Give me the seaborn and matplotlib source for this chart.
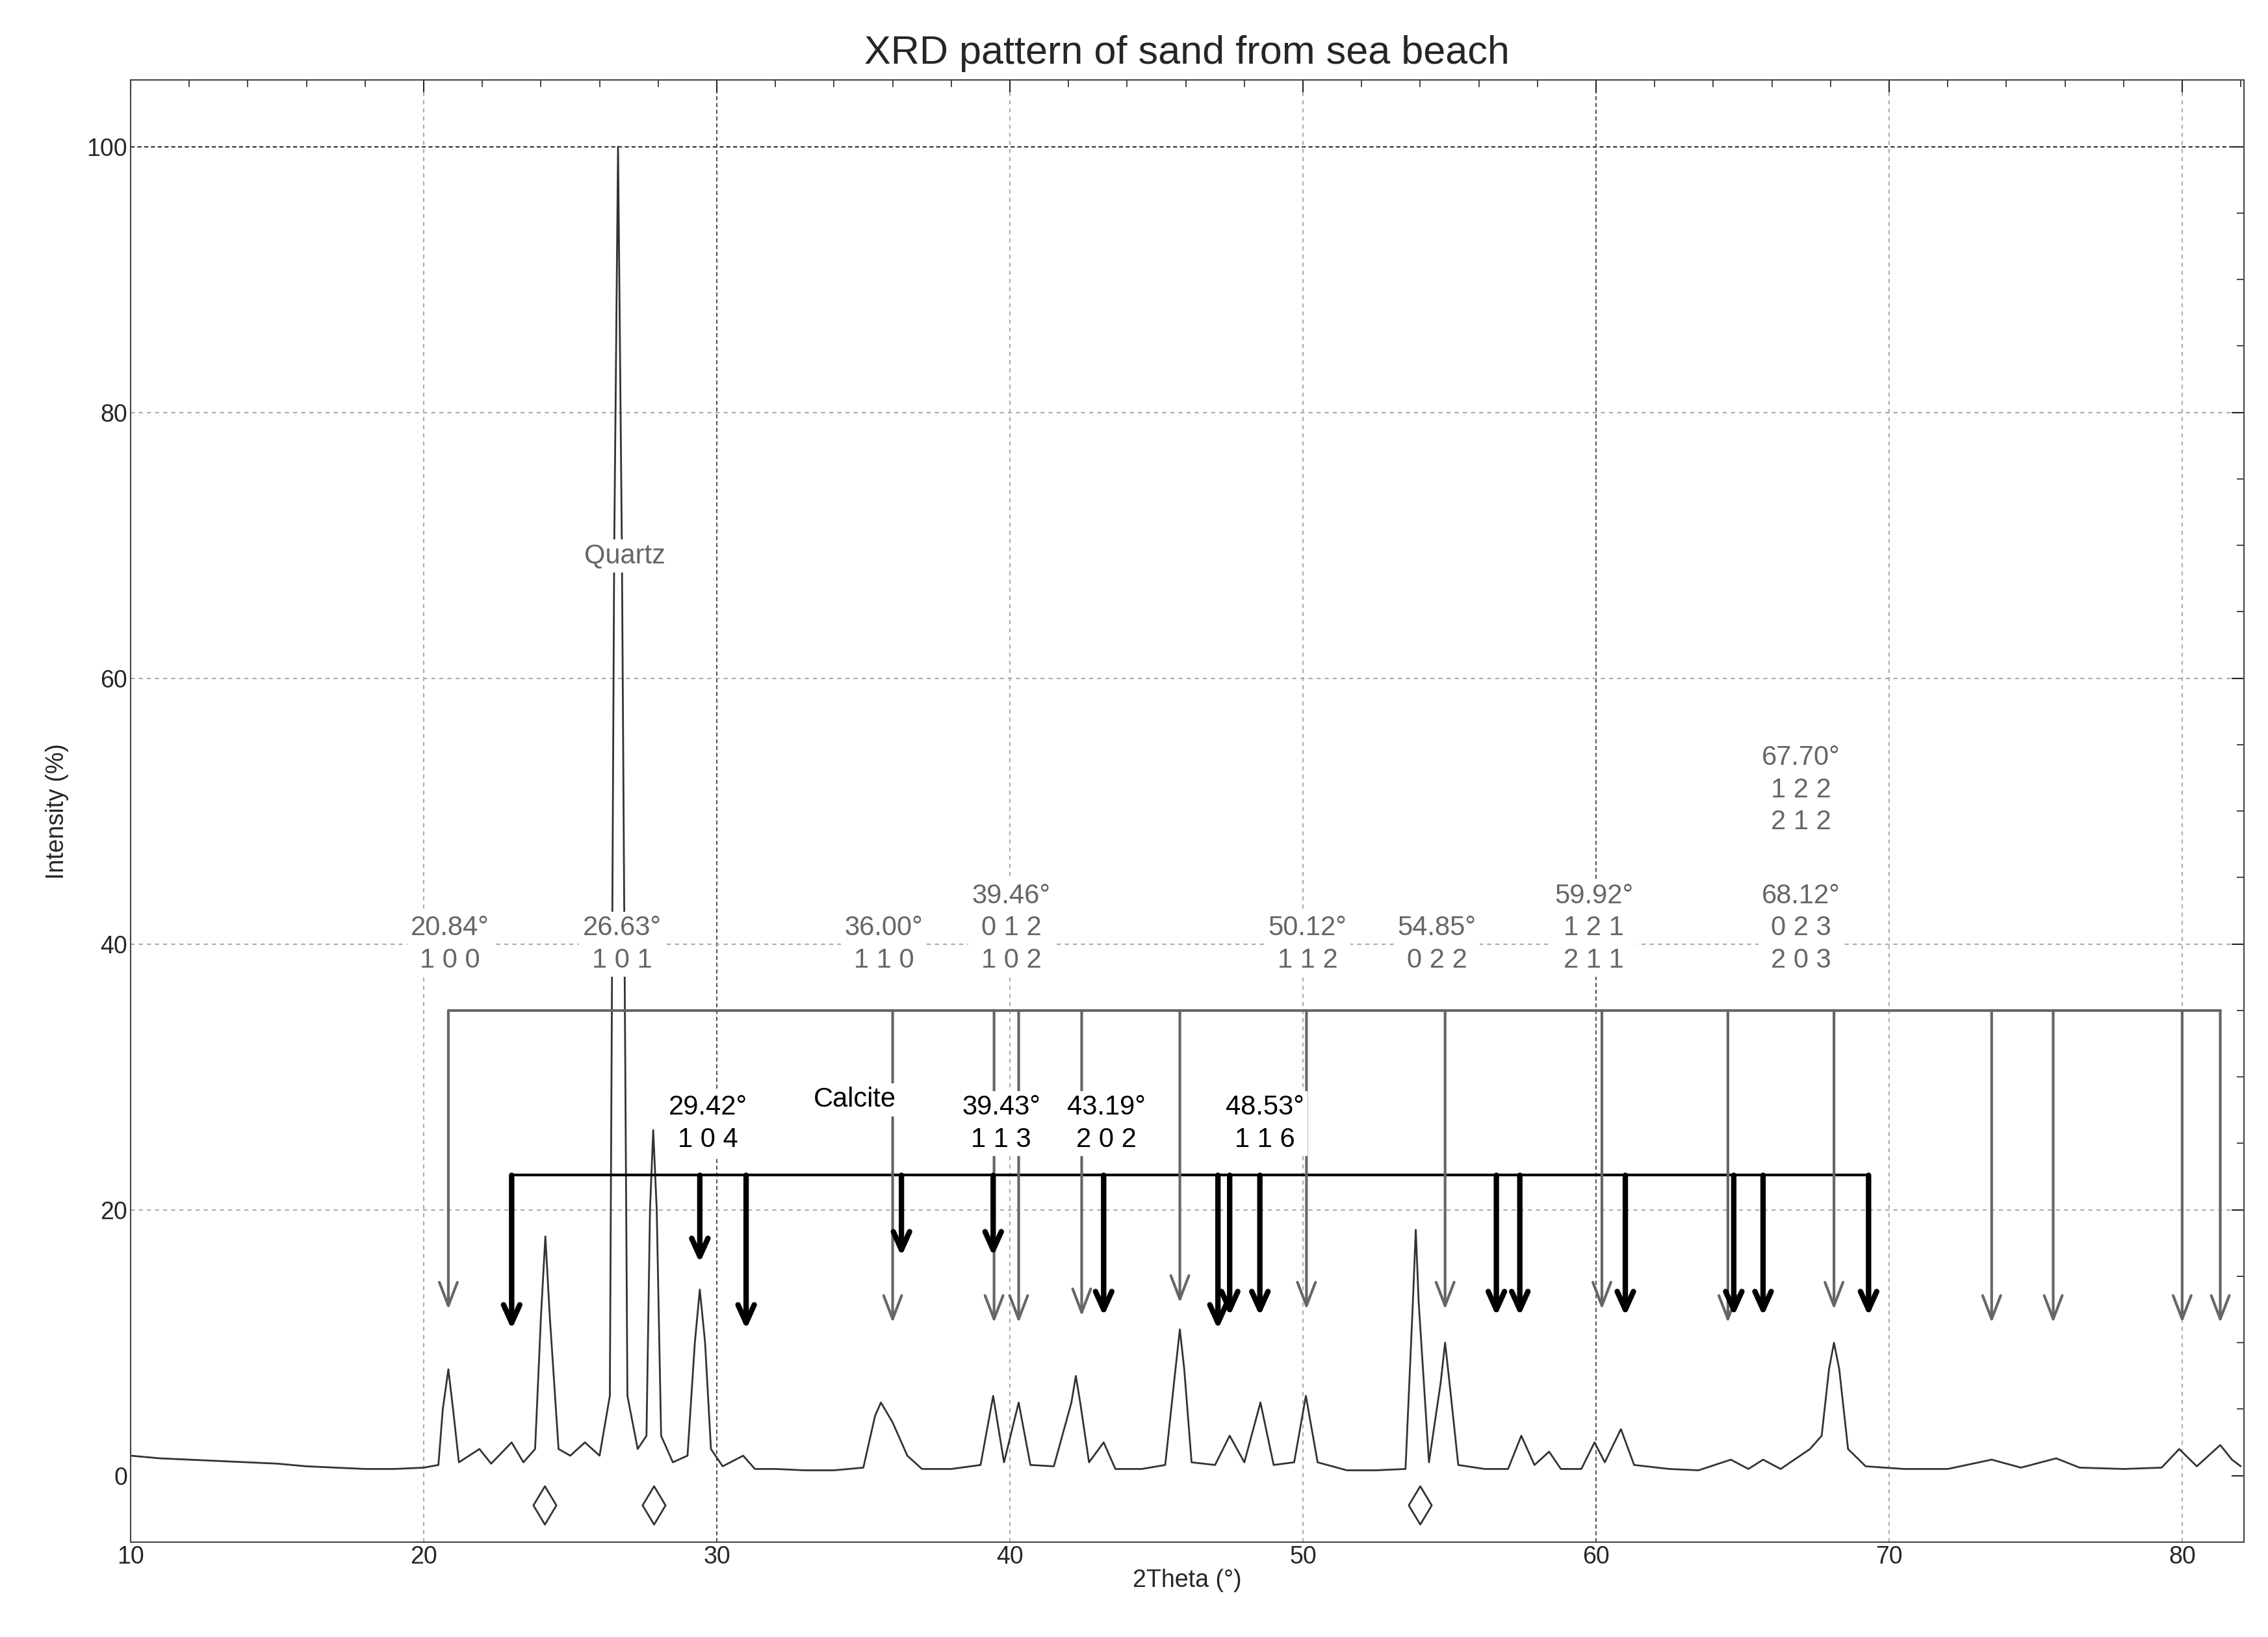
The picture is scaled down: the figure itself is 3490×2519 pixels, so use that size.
import matplotlib
matplotlib.use("Agg")
import matplotlib.pyplot as plt
import seaborn as sns
import pandas as pd
from matplotlib.ticker import MultipleLocator

sns.set_style("white")
plt.rcParams['font.family'] = ['Liberation Sans', 'DejaVu Sans']

two_theta = [10, 11, 12, 13, 14, 15, 16, 17, 18, 19, 20, 20.5, 20.65, 20.84, 21.0, 21.2, 21.9, 22.3, 23.0, 23.4, 23.8, 24.0, 24.15, 24.3, 24.6,
             25.0, 25.5, 26.0, 26.35, 26.5, 26.63, 26.76, 26.95, 27.3, 27.6, 27.72, 27.83, 27.95, 28.1, 28.5, 29.0, 29.25, 29.42, 29.6, 29.8, 30.2, 30.9, 31.3,
             32, 33, 34, 35.0, 35.4, 35.6, 36.0, 36.5, 37, 38, 39.0, 39.43, 39.8, 40.3, 40.7, 41.5, 42.1, 42.25, 42.4, 42.7, 43.2, 43.6,
             44.5, 45.3, 45.65, 45.8, 45.95, 46.2, 47.0, 47.5, 48.0, 48.55, 49.0, 49.7, 50.1, 50.5, 51.5, 52.5, 53.5, 53.75, 53.85, 53.95, 54.3,
             54.7, 54.85, 55.0, 55.3, 56.2, 57.0, 57.45, 57.9, 58.4, 58.8, 59.5, 59.95, 60.3, 60.85, 61.3, 62.5, 63.5, 64.6, 65.2,
             65.7, 66.3, 67.3, 67.7, 67.95, 68.12, 68.3, 68.6, 69.2, 70.5, 72, 73.5, 74.5, 75.7, 76.5, 78, 79.3, 79.9, 80.5, 81.3,
             81.7, 82]
intensity = [1.5, 1.3, 1.2, 1.1, 1.0, 0.9, 0.7, 0.6, 0.5, 0.5, 0.6, 0.8, 5.0, 8.0, 5.0, 1.0, 2.0, 0.9, 2.5, 1.0, 2.0, 12.0, 18.0, 12.0, 2.0,
             1.5, 2.5, 1.5, 6.0, 70.0, 100.0, 70.0, 6.0, 2.0, 3.0, 20.0, 26.0, 20.0, 3.0, 1.0, 1.5, 10.0, 14.0, 10.0, 2.0, 0.7, 1.5, 0.5,
             0.5, 0.4, 0.4, 0.6, 4.5, 5.5, 4.0, 1.5, 0.5, 0.5, 0.8, 6.0, 1.0, 5.5, 0.8, 0.7, 5.5, 7.5, 5.5, 1.0, 2.5, 0.5,
             0.5, 0.8, 8.0, 11.0, 8.0, 1.0, 0.8, 3.0, 1.0, 5.5, 0.8, 1.0, 6.0, 1.0, 0.4, 0.4, 0.5, 13.0, 18.5, 13.0, 1.0,
             7.0, 10.0, 7.0, 0.8, 0.5, 0.5, 3.0, 0.8, 1.8, 0.5, 0.5, 2.5, 1.0, 3.5, 0.8, 0.5, 0.4, 1.2, 0.5,
             1.2, 0.5, 2.0, 3.0, 8.0, 10.0, 8.0, 2.0, 0.7, 0.5, 0.5, 1.2, 0.6, 1.3, 0.6, 0.5, 0.6, 2.0, 0.7, 2.3,
             1.2, 0.7]

quartz_x = [20.84, 36.00, 39.46, 40.3, 42.45, 45.8, 50.12, 54.85, 60.2, 64.5, 68.12, 73.5, 75.6, 80.0, 81.3]
quartz_tip = [12.5, 11.5, 11.5, 11.5, 12, 13, 12.5, 12.5, 12.5, 11.5, 12.5, 11.5, 11.5, 11.5, 11.5]
calcite_x = [23.0, 29.42, 31.0, 36.3, 39.43, 43.2, 47.1, 47.5, 48.53, 56.6, 57.4, 61.0, 64.7, 65.7, 69.3]
calcite_tip = [11, 16, 11, 16.5, 16.5, 12, 11, 12, 12, 12, 12, 12, 12, 12, 12]

quartz_labels = [(20.9, "20.84°\n1 0 0"), (26.76, "26.63°\n1 0 1"), (35.7, "36.00°\n1 1 0"),
                 (40.05, "39.46°\n0 1 2\n1 0 2"), (50.16, "50.12°\n1 1 2"), (54.57, "54.85°\n0 2 2"),
                 (59.93, "59.92°\n1 2 1\n2 1 1"), (67.0, "68.12°\n0 2 3\n2 0 3"), (67.0, "67.70°\n1 2 2\n2 1 2")]
quartz_label_base = [37.8, 37.8, 37.8, 37.8, 37.8, 37.8, 37.8, 37.8, 48.2]
calcite_labels = [(29.7, "29.42°\n1 0 4"), (39.7, "39.43°\n1 1 3"), (43.3, "43.19°\n2 0 2"), (48.7, "48.53°\n1 1 6")]
diamond_x = [24.13, 27.85, 54.0]

GRAY = "#666666"
fig, ax = plt.subplots(figsize=(34.91, 25.19), dpi=100)
fig.subplots_adjust(left=0.0576, right=0.989, top=0.951, bottom=0.058)

df = pd.DataFrame({"x": two_theta, "y": intensity})
sns.lineplot(data=df, x="x", y="y", ax=ax, color="#333333", lw=2.0)

ax.set_xlim(10, 82.1)
ax.set_ylim(-5, 105)
ax.xaxis.set_major_locator(MultipleLocator(10))
ax.xaxis.set_minor_locator(MultipleLocator(2))
ax.yaxis.set_major_locator(MultipleLocator(20))
ax.yaxis.set_minor_locator(MultipleLocator(5))
ax.tick_params(which="both", direction="in", top=True, right=True, labelsize=27)
ax.tick_params(which="major", length=14, width=1.5)
ax.tick_params(which="minor", length=8, width=1.2)
for v in [20, 40, 50, 70, 80]:
    ax.axvline(v, color="#aaaaaa", ls=(0, (3, 3)), lw=1.5, zorder=0)
for v in [30, 60]:
    ax.axvline(v, color="#555555", ls=(0, (3, 2)), lw=1.5, zorder=0)
for v in [20, 40, 60, 80]:
    ax.axhline(v, color="#aaaaaa", ls=(0, (3, 3)), lw=1.5, zorder=0)
ax.axhline(100, color="#333333", ls=(0, (3, 2)), lw=1.5, zorder=0)
for s in ax.spines.values():
    s.set_color("#444444"); s.set_linewidth(1.5)

ax.set_xlabel("2Theta (°)", fontsize=27, labelpad=0)
ax.set_ylabel("Intensity (%)", fontsize=27, labelpad=20)
ax.set_title("XRD pattern of sand from sea beach", fontsize=44, pad=18)

ax.plot([quartz_x[0], quartz_x[-1]], [35, 35], color=GRAY, lw=3)
for x, t in zip(quartz_x, quartz_tip):
    ax.annotate("", xy=(x, t), xytext=(x, 35),
                arrowprops=dict(arrowstyle="->,head_length=2.6,head_width=1.0", color=GRAY, lw=3, shrinkA=0, shrinkB=0))
ax.plot([calcite_x[0], calcite_x[-1]], [22.6, 22.6], color="black", lw=3)
for x, t in zip(calcite_x, calcite_tip):
    ax.annotate("", xy=(x, t), xytext=(x, 22.6),
                arrowprops=dict(arrowstyle="->,head_length=2.0,head_width=0.9", color="black", lw=6,
                                shrinkA=0, shrinkB=0))

for (x, txt), b in zip(quartz_labels, quartz_label_base):
    ax.text(x, b, txt, ha="center", va="bottom", fontsize=30, color=GRAY, linespacing=1.3,
            bbox=dict(facecolor="white", edgecolor="none", pad=4))
for x, txt in calcite_labels:
    ax.text(x, 24.3, txt, ha="center", va="bottom", fontsize=30, color="black", linespacing=1.3,
            bbox=dict(facecolor="white", edgecolor="none", pad=4))
ax.text(34.7, 27.3, "Calcite", ha="center", va="bottom", fontsize=30, color="black",
        bbox=dict(facecolor="white", edgecolor="none", pad=4))
ax.text(26.86, 69.2, "Quartz", ha="center", va="center", fontsize=30, color=GRAY,
        bbox=dict(facecolor="white", edgecolor="none", pad=4))
ax.scatter(diamond_x, [-2.2] * len(diamond_x), marker="d", s=900, facecolors="white",
           edgecolors="#333333", linewidths=2, zorder=5)

fig.savefig("out.png", dpi=100)
